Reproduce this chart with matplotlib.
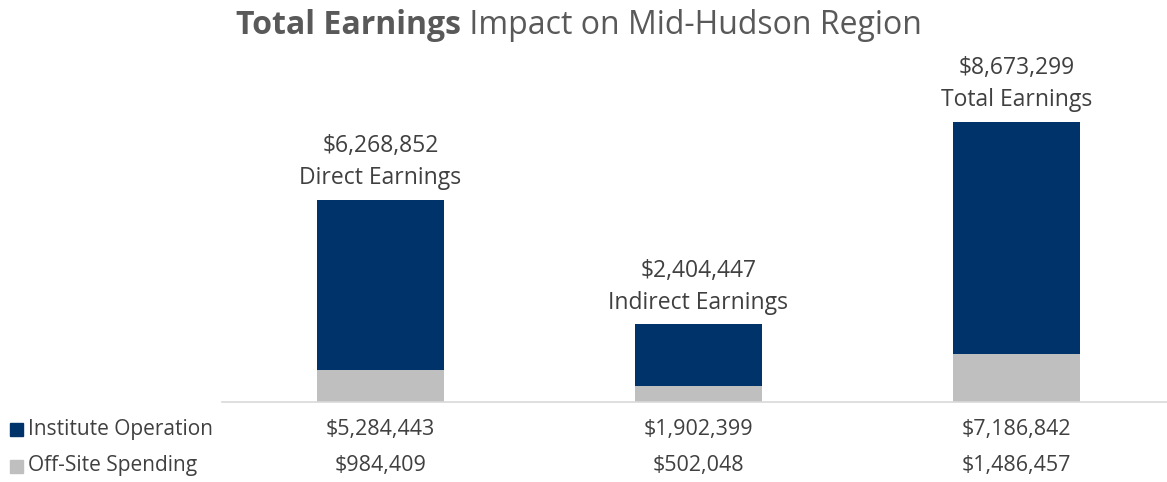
import matplotlib
matplotlib.use("Agg")
import matplotlib.pyplot as plt
from matplotlib.patches import Rectangle

categories = ["Direct Earnings", "Indirect Earnings", "Total Earnings"]
institute_operation = [5284443, 1902399, 7186842]
offsite_spending = [984409, 502048, 1486457]
totals = [6268852, 2404447, 8673299]
series_names = ["Institute Operation", "Off-Site Spending"]

NAVY = "#00336A"
GRAY = "#BFBFBF"
TEXT = "#404040"
FONT = "Open Sans"

W, H = 1167, 482
fig = plt.figure(figsize=(W / 100, H / 100), dpi=100)

left, right, bottom_px, top_px = 221.5, 1175.5, 402, 60
ax = fig.add_axes([left / W, (H - bottom_px) / H, (right - left) / W, (bottom_px - top_px) / H])
ax.set_xlim(-0.5, 2.5)
ymax = 8673299 * (bottom_px - top_px) / (402 - 122)
ax.set_ylim(0, ymax)

x = list(range(len(categories)))
ax.bar(x, offsite_spending, width=0.4, color=GRAY, zorder=2)
ax.bar(x, institute_operation, width=0.4, bottom=offsite_spending, color=NAVY, zorder=2)

for xi, tot, cat in zip(x, totals, categories):
    ax.annotate(f"${tot:,}\n{cat}", (xi, tot), xytext=(0, 7), textcoords="offset points",
                ha="center", va="bottom", fontsize=16.5, color=TEXT, family=FONT,
                linespacing=1.45)

for s in ["top", "right", "left"]:
    ax.spines[s].set_visible(False)
ax.spines["bottom"].set_color("#D9D9D9")
ax.spines["bottom"].set_linewidth(1.2)
ax.set_xticks([])
ax.set_yticks([])

row_y = [429, 466]
rows = [institute_operation, offsite_spending]
colors = [NAVY, GRAY]
for ry, name, vals, c in zip(row_y, series_names, rows, colors):
    yf = (H - ry) / H
    fig.patches.append(Rectangle((10 / W, yf - 6.5 / H), 13 / W, 13 / H, transform=fig.transFigure,
                                 color=c, figure=fig))
    fig.text(28 / W, yf, name, ha="left", va="center", fontsize=15, color=TEXT, family=FONT)
    for xi, v in zip(x, vals):
        xd = ax.transData.transform((xi, 0))[0]
        fig.text(xd / W, yf, f"${v:,}", ha="center", va="center", fontsize=15.5, color=TEXT, family=FONT)

fig.canvas.draw()
r = fig.canvas.get_renderer()
t1 = fig.text(0, 0, "Total Earnings", fontsize=23, fontweight="bold", color="#595959", family=FONT, va="center")
t2 = fig.text(0, 0, " Impact on Mid-Hudson Region", fontsize=23, color="#595959", family=FONT, va="center")
w1 = t1.get_window_extent(r).width
w2 = t2.get_window_extent(r).width
cx = 579
start = cx - (w1 + w2) / 2
ty = (H - 26) / H
t1.set_position((start / W, ty))
t2.set_position(((start + w1) / W, ty))

fig.savefig("out.png", dpi=100)
